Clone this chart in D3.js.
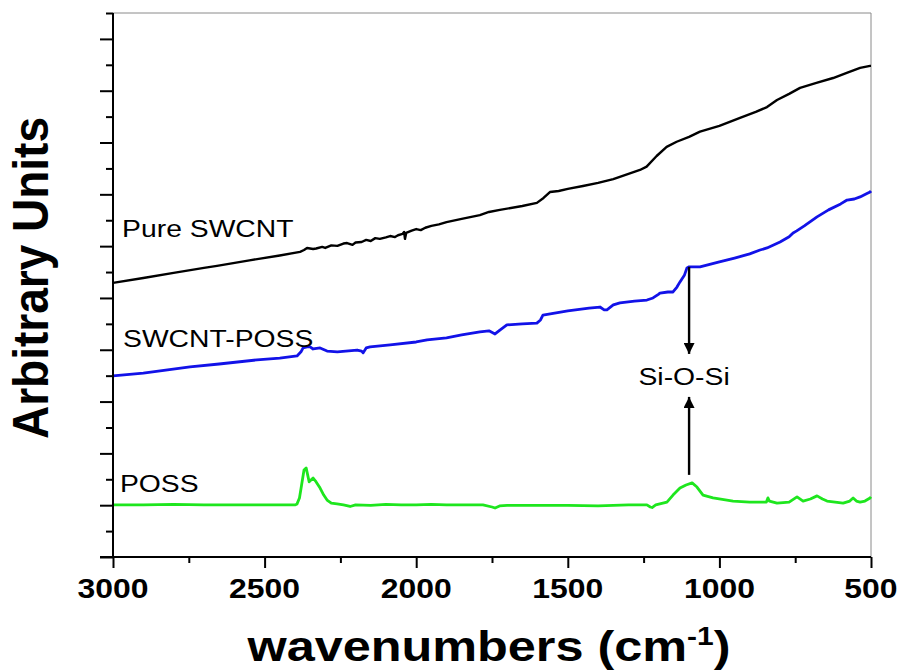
<!DOCTYPE html>
<html>
<head>
<meta charset="utf-8">
<script src="https://cdn.jsdelivr.net/npm/d3@7"></script>
<style>
  html, body { margin: 0; padding: 0; background: #fff; }
  svg { display: block; font-family: "Liberation Sans", Arial, sans-serif; }
</style>
</head>
<body>
<svg id="chart" width="900" height="670"></svg>
<script>
// FTIR spectra: wavenumber (cm^-1) and intensity (arbitrary units, offset per trace)
const pureWavenumbers = [3000,2900,2800,2700,2657,2550,2450,2383,2370,2360,2340,2330,2310,2300,2280,2260,2240,2228,2210,2200,2180,2165,2150,2135,2120,2100,2086,2070,2060,2045,2040,2037,2033,2015,2000,1985,1970,1950,1925,1900,1850,1790,1760,1724,1650,1602,1580,1559,1530,1500,1450,1400,1350,1300,1262,1240,1207,1174,1141,1100,1064,1000,932,880,843,810,770,734,680,625,580,536,503,500];
const pureIntensity   = [10.58,10.77,10.97,11.16,11.24,11.45,11.64,11.78,11.85,11.93,11.89,11.91,11.97,11.93,12.03,12.01,12.10,12.12,12.05,12.14,12.16,12.24,12.20,12.31,12.28,12.34,12.39,12.35,12.42,12.47,12.55,12.28,12.51,12.60,12.66,12.62,12.71,12.78,12.84,12.93,13.05,13.20,13.32,13.40,13.55,13.67,13.86,14.09,14.13,14.21,14.32,14.44,14.59,14.79,14.94,15.07,15.48,15.83,16.03,16.22,16.42,16.64,16.95,17.18,17.37,17.64,17.88,18.11,18.30,18.49,18.69,18.88,18.96,18.96];

const hybridWavenumbers = [3000,2900,2746,2650,2525,2450,2393,2380,2373,2360,2350,2340,2317,2294,2260,2195,2180,2175,2165,2152,2086,2000,1964,1900,1850,1790,1760,1740,1724,1701,1650,1602,1590,1582,1500,1430,1394,1380,1371,1350,1328,1280,1239,1219,1200,1196,1170,1153,1140,1130,1115,1107,1100,1064,1000,950,900,866,843,800,770,757,745,720,678,640,600,579,555,536,515,503,500];
const hybridIntensity   = [6.99,7.10,7.34,7.45,7.61,7.68,7.76,7.92,8.07,8.11,8.11,8.03,8.07,7.95,7.92,7.99,7.95,7.88,8.07,8.11,8.19,8.30,8.38,8.46,8.57,8.69,8.73,8.61,8.76,8.96,9.00,9.03,9.15,9.34,9.50,9.61,9.65,9.54,9.54,9.73,9.81,9.88,9.92,10.00,10.15,10.19,10.23,10.23,10.42,10.62,10.89,11.16,11.20,11.20,11.39,11.54,11.70,11.85,11.93,12.16,12.36,12.51,12.59,12.78,13.13,13.40,13.63,13.78,13.82,13.90,14.02,14.09,14.13];

const possWavenumbers = [3000,2900,2800,2700,2600,2500,2400,2393,2385,2378,2370,2363,2358,2353,2347,2340,2330,2317,2305,2294,2280,2261,2240,2218,2200,2150,2100,2050,2000,1950,1900,1850,1780,1750,1740,1725,1700,1600,1500,1400,1300,1239,1228,1222,1210,1173,1153,1130,1110,1090,1074,1054,1021,955,900,845,840,835,810,770,744,724,700,678,660,645,592,570,559,548,536,520,503,500];
const possIntensity   = [2.01,2.01,2.03,2.01,2.01,2.01,2.01,2.05,2.28,2.78,3.36,3.44,3.17,2.90,2.97,3.05,2.90,2.66,2.39,2.20,2.08,2.05,2.01,1.95,2.01,1.99,2.03,2.01,2.01,2.03,2.01,2.01,2.01,1.93,1.89,1.97,1.99,1.99,1.99,1.97,2.01,2.01,1.93,1.91,2.01,2.12,2.39,2.66,2.78,2.86,2.70,2.39,2.28,2.16,2.12,2.12,2.28,2.16,2.08,2.12,2.32,2.16,2.24,2.36,2.24,2.16,2.08,2.16,2.28,2.16,2.12,2.16,2.28,2.32];

const seriesNames  = ["Pure SWCNT", "SWCNT-POSS", "POSS"];
const seriesColors = ["#000000", "#1212e8", "#1ee61e"];
const labelAnchors = [[2970, 12.36], [2967, 8.11], [2977, 2.51]];   // [wavenumber, intensity] of each label's baseline start

const xTickValues = [3000, 2500, 2000, 1500, 1000, 500];
const xMinorTicks = [2750, 2250, 1750, 1250, 750];

// Si-O-Si band annotation
const bandWavenumber = 1100;
const bandLabel = "Si-O-Si";
const arrowDown = [11.20, 7.84];  // from SWCNT-POSS trace down to label
const arrowUp   = [3.17, 6.18];   // from POSS peak up to label
const bandLabelBaseline = 6.64;

// ---- layout ----
const svg = d3.select("#chart");
const plotLeft = 113, plotRight = 871, plotTop = 13, plotBottom = 557;
const textStretch = 1.18;

const x = d3.scaleLinear().domain([3000, 500]).range([plotLeft, plotRight]);
const y = d3.scaleLinear().domain([0, 21]).range([plotBottom, plotTop]);

// frame: top and right edges in thin grey
svg.append("line").attr("x1", plotLeft).attr("x2", plotRight).attr("y1", plotTop).attr("y2", plotTop)
  .attr("stroke", "#8a8a8a").attr("stroke-width", 1);
svg.append("line").attr("x1", plotRight).attr("x2", plotRight).attr("y1", plotTop).attr("y2", plotBottom)
  .attr("stroke", "#8a8a8a").attr("stroke-width", 1);

// traces
const traces = [
  [pureWavenumbers, pureIntensity],
  [hybridWavenumbers, hybridIntensity],
  [possWavenumbers, possIntensity]
];
const line = d3.line().x(d => x(d[0])).y(d => y(d[1]));
traces.forEach((t, i) => {
  const pts = t[0].map((w, k) => [w, t[1][k]]);
  svg.append("path").datum(pts)
    .attr("d", line)
    .attr("fill", "none")
    .attr("stroke", seriesColors[i])
    .attr("stroke-width", i === 0 ? 2.4 : 2.8)
    .attr("stroke-linejoin", "round");
});

// series labels
seriesNames.forEach((name, i) => {
  svg.append("g")
    .attr("transform", `translate(${x(labelAnchors[i][0])},${y(labelAnchors[i][1])}) scale(${textStretch},1)`)
    .append("text")
    .attr("font-size", 24)
    .attr("fill", "#000")
    .text(name);
});

// annotation arrows
const defs = svg.append("defs");
defs.append("marker")
  .attr("id", "arrowhead")
  .attr("viewBox", "0 0 10 10")
  .attr("refX", 10).attr("refY", 5)
  .attr("markerWidth", 15).attr("markerHeight", 11)
  .attr("markerUnits", "userSpaceOnUse")
  .attr("orient", "auto")
  .append("path").attr("d", "M0,0 L10,5 L0,10 Z").attr("fill", "#000");

[arrowDown, arrowUp].forEach(a => {
  svg.append("line")
    .attr("x1", x(bandWavenumber)).attr("x2", x(bandWavenumber))
    .attr("y1", y(a[0])).attr("y2", y(a[1]))
    .attr("stroke", "#000").attr("stroke-width", 2.4)
    .attr("marker-end", "url(#arrowhead)");
});

svg.append("g")
  .attr("transform", `translate(${x(bandWavenumber) - 5},${y(bandLabelBaseline)}) scale(${textStretch},1)`)
  .append("text")
  .attr("font-size", 24)
  .attr("text-anchor", "middle")
  .attr("fill", "#000")
  .text(bandLabel);

// x axis
const xAxisG = svg.append("g").attr("transform", `translate(0,${plotBottom})`);
xAxisG.append("line").attr("x1", 100).attr("x2", plotRight).attr("y1", 0).attr("y2", 0)
  .attr("stroke", "#000").attr("stroke-width", 2);
const xMajor = d3.axisBottom(x).tickValues(xTickValues).tickSize(11).tickFormat("");
const xMinor = d3.axisBottom(x).tickValues(xMinorTicks).tickSize(6).tickFormat("");
[xMajor, xMinor].forEach(ax => {
  const g = xAxisG.append("g").call(ax);
  g.select(".domain").remove();
  g.selectAll(".tick line").attr("stroke", "#000").attr("stroke-width", 2);
});
xTickValues.forEach(v => {
  xAxisG.append("g")
    .attr("transform", `translate(${x(v)},41) scale(1.14,1)`)
    .append("text")
    .attr("font-size", 28)
    .attr("font-weight", "bold")
    .attr("text-anchor", "middle")
    .attr("fill", "#000")
    .text(v);
});

// y axis (no numeric labels)
const yAxisG = svg.append("g").attr("transform", `translate(${plotLeft},0)`);
yAxisG.append("line").attr("x1", 0).attr("x2", 0).attr("y1", plotTop).attr("y2", plotBottom)
  .attr("stroke", "#000").attr("stroke-width", 2);
const yMajorVals = d3.range(0, 22, 2);
const yMinorVals = d3.range(1, 22, 2);
const yMajor = d3.axisLeft(y).tickValues(yMajorVals).tickSize(13).tickFormat("");
const yMinor = d3.axisLeft(y).tickValues(yMinorVals).tickSize(7).tickFormat("");
[yMajor, yMinor].forEach(ax => {
  const g = yAxisG.append("g").call(ax);
  g.select(".domain").remove();
  g.selectAll(".tick line").attr("stroke", "#000").attr("stroke-width", 2);
});

// axis titles
const xTitle = svg.append("g")
  .attr("transform", `translate(489,661) scale(1.2,1)`)
  .append("text")
  .attr("font-size", 42)
  .attr("font-weight", "bold")
  .attr("text-anchor", "middle")
  .attr("fill", "#000");
xTitle.append("tspan").text("wavenumbers (cm");
xTitle.append("tspan").attr("font-size", 25).attr("dy", -16).text("-1");
xTitle.append("tspan").attr("dy", 16).text(")");

svg.append("g")
  .attr("transform", `translate(48,278) scale(1.08,1) rotate(-90)`)
  .append("text")
  .attr("font-size", 46)
  .attr("font-weight", "bold")
  .attr("text-anchor", "middle")
  .attr("fill", "#000")
  .text("Arbitrary Units");
</script>
</body>
</html>
